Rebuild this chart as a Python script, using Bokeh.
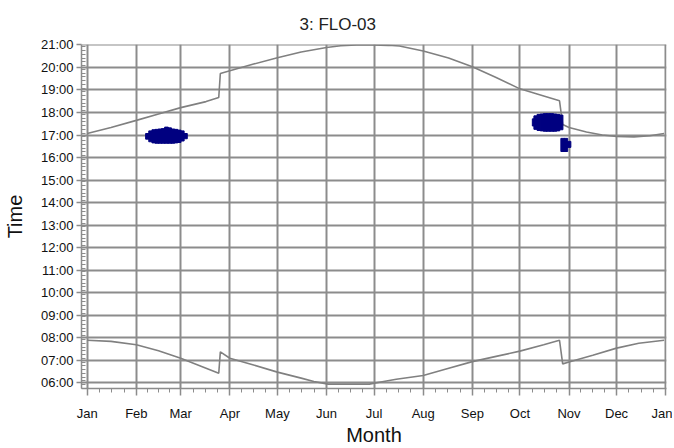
from bokeh.plotting import figure
from bokeh.models import FixedTicker, Range1d, Title, ColumnDataSource
from bokeh.embed import file_html
from bokeh.resources import INLINE

# ---- data (day of year, "HH:MM") ----
month_labels = ["Jan", "Feb", "Mar", "Apr", "May", "Jun", "Jul", "Aug", "Sep", "Oct", "Nov", "Dec", "Jan"]
month_start = [0, 31, 59, 90, 120, 151, 181, 212, 243, 273, 304, 334, 365]

sunset_day = [0, 15, 31, 45, 59, 75, 83, 84, 90, 105, 120, 135, 151, 160, 170, 180, 190, 197,
              212, 228, 243, 258, 273, 287, 298, 300, 304, 315, 325, 334, 345, 355, 364]
sunset_time = ["17:04", "17:20", "17:39", "17:56", "18:13", "18:29", "18:40", "19:44", "19:51",
               "20:09", "20:26", "20:41", "20:53", "20:58", "21:00", "21:00", "20:59", "20:57",
               "20:44", "20:25", "20:02", "19:33", "19:03", "18:45", "18:31", "17:28", "17:20",
               "17:08", "17:00", "16:56", "16:55", "16:58", "17:04"]

sunrise_day = [0, 15, 31, 45, 59, 73, 83, 84, 90, 105, 120, 135, 143, 152, 178, 187, 195,
               212, 227, 243, 258, 273, 288, 298, 300, 304, 319, 334, 348, 364]
sunrise_time = ["07:53", "07:50", "07:41", "07:25", "07:05", "06:42", "06:25", "07:22", "07:05",
                "06:47", "06:28", "06:12", "06:03", "05:56", "05:56", "06:03", "06:09",
                "06:19", "06:37", "06:56", "07:10", "07:24", "07:41", "07:53", "06:50", "06:55",
                "07:13", "07:32", "07:45", "07:53"]

glare_day = [38, 40, 42, 44, 46, 48, 50, 52, 54, 56, 58, 60, 62,
             282, 283, 285, 287, 289, 291, 293, 295, 297, 299,
             300, 302, 304]
glare_start = ["16:49", "16:42", "16:39", "16:38", "16:38", "16:38", "16:38", "16:38", "16:38",
               "16:39", "16:40", "16:44", "16:50",
               "17:24", "17:15", "17:12", "17:11", "17:10", "17:10", "17:10", "17:10", "17:11", "17:14",
               "16:16", "16:16", "16:27"]
glare_end = ["17:04", "17:11", "17:14", "17:15", "17:16", "17:17", "17:21", "17:19", "17:16",
             "17:15", "17:13", "17:11", "17:04",
             "17:43", "17:51", "17:55", "17:56", "17:57", "17:57", "17:57", "17:56", "17:55", "17:53",
             "16:51", "16:51", "16:43"]

hour_ticks = list(range(6, 22))


def hm(s):
    h, m = s.split(":")
    return int(h) + int(m) / 60.0


GRID = "#8c8c8c"
FONT = "Liberation Sans"

p = figure(width=672, height=448, output_backend="svg", toolbar_location=None,
           x_range=Range1d(-3.6, 365.5), y_range=Range1d(5.74, 21.02),
           min_border_left=81, min_border_right=6, min_border_top=44, min_border_bottom=58)
p.outline_line_color = None
p.background_fill_color = "white"
p.border_fill_color = "white"

t = Title(text="3: FLO-03", align="left", text_font=FONT, text_font_size="17px",
          text_font_style="normal", text_color="#222222", offset=218, standoff=22)
p.add_layout(t, "above")

# axes
minor_x = []
for i in range(12):
    a, b = month_start[i], month_start[i + 1]
    for k in (1, 2, 3):
        minor_x.append(a + (b - a) * k / 4.0)
p.xaxis.ticker = FixedTicker(ticks=month_start, minor_ticks=minor_x)
p.xaxis.major_label_overrides = {d: lab for d, lab in zip(month_start, month_labels)}
p.yaxis.ticker = FixedTicker(ticks=hour_ticks,
                             minor_ticks=[5.75 + i / 6.0 for i in range(0, 92)])
p.yaxis.major_label_overrides = {h: f"{h:02d}:00" for h in hour_ticks}

for ax in (p.xaxis[0], p.yaxis[0]):
    ax.axis_line_color = GRID
    ax.axis_line_width = 1.5
    ax.major_tick_line_color = GRID
    ax.minor_tick_line_color = GRID
    ax.major_tick_line_width = 1.5
    ax.minor_tick_line_width = 1
    ax.major_label_text_font = FONT
    ax.major_label_text_font_size = "13px"
    ax.major_label_text_color = "#111111"
    ax.axis_label_text_font = FONT
    ax.axis_label_text_font_size = "20px"
    ax.axis_label_text_font_style = "normal"
    ax.axis_label_text_color = "#111111"

p.xaxis.axis_label = "Month"
p.xaxis.major_tick_out = 7
p.xaxis.major_tick_in = 0
p.xaxis.minor_tick_out = 4
p.xaxis.minor_tick_in = 0
p.xaxis.major_label_standoff = 10
p.xaxis.axis_label_standoff = 0

p.yaxis.axis_label = "Time"
p.yaxis.major_tick_out = 5
p.yaxis.major_tick_in = 0
p.yaxis.minor_tick_out = 0
p.yaxis.minor_tick_in = 4
p.yaxis.major_label_standoff = 3
p.yaxis.axis_label_standoff = 12

p.xgrid.grid_line_color = GRID
p.xgrid.grid_line_width = 2
p.ygrid.grid_line_color = GRID
p.ygrid.grid_line_width = 2

# sun curves
p.line(sunset_day, [hm(s) for s in sunset_time], line_color="#808080", line_width=1.6)
p.line(sunrise_day, [hm(s) for s in sunrise_time], line_color="#808080", line_width=1.6)

# glare occurrences
src = ColumnDataSource(dict(x=glare_day, bottom=[hm(s) for s in glare_start],
                            top=[hm(s) for s in glare_end]))
p.vbar(x="x", bottom="bottom", top="top", width=2.3, source=src,
       fill_color="#000080", line_color="#000080", line_width=1)

open("out.html", "w").write(file_html(p, INLINE))
